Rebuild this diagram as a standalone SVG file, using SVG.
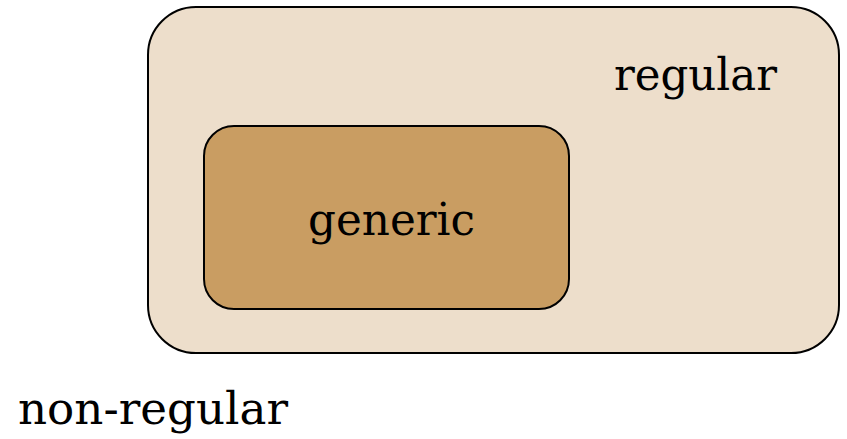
<svg xmlns="http://www.w3.org/2000/svg" width="847" height="439" viewBox="0 0 847 439">
  <style>
    .box { stroke: #000; stroke-width: 2; }
    .outer { fill: #eddecb; }
    .inner { fill: #c99d62; }
    .label { font-family: "DejaVu Serif", "Liberation Serif", serif; font-size: 44px; fill: #000; }
  </style>
  <rect width="847" height="439" fill="#fff"/>
  <g id="regular">
    <rect class="box outer" x="148" y="7" width="691" height="346" rx="48" ry="48"/>
    <text class="label" x="614" y="90" textLength="163" lengthAdjust="spacingAndGlyphs">regular</text>
  </g>
  <g id="generic">
    <rect class="box inner" x="204" y="126" width="365" height="183" rx="30" ry="30"/>
    <text class="label" x="308" y="235" textLength="167" lengthAdjust="spacingAndGlyphs">generic</text>
  </g>
  <g id="non-regular">
    <text class="label" x="18" y="424" textLength="270" lengthAdjust="spacingAndGlyphs">non-regular</text>
  </g>
  <g id="connectors"/>
</svg>
